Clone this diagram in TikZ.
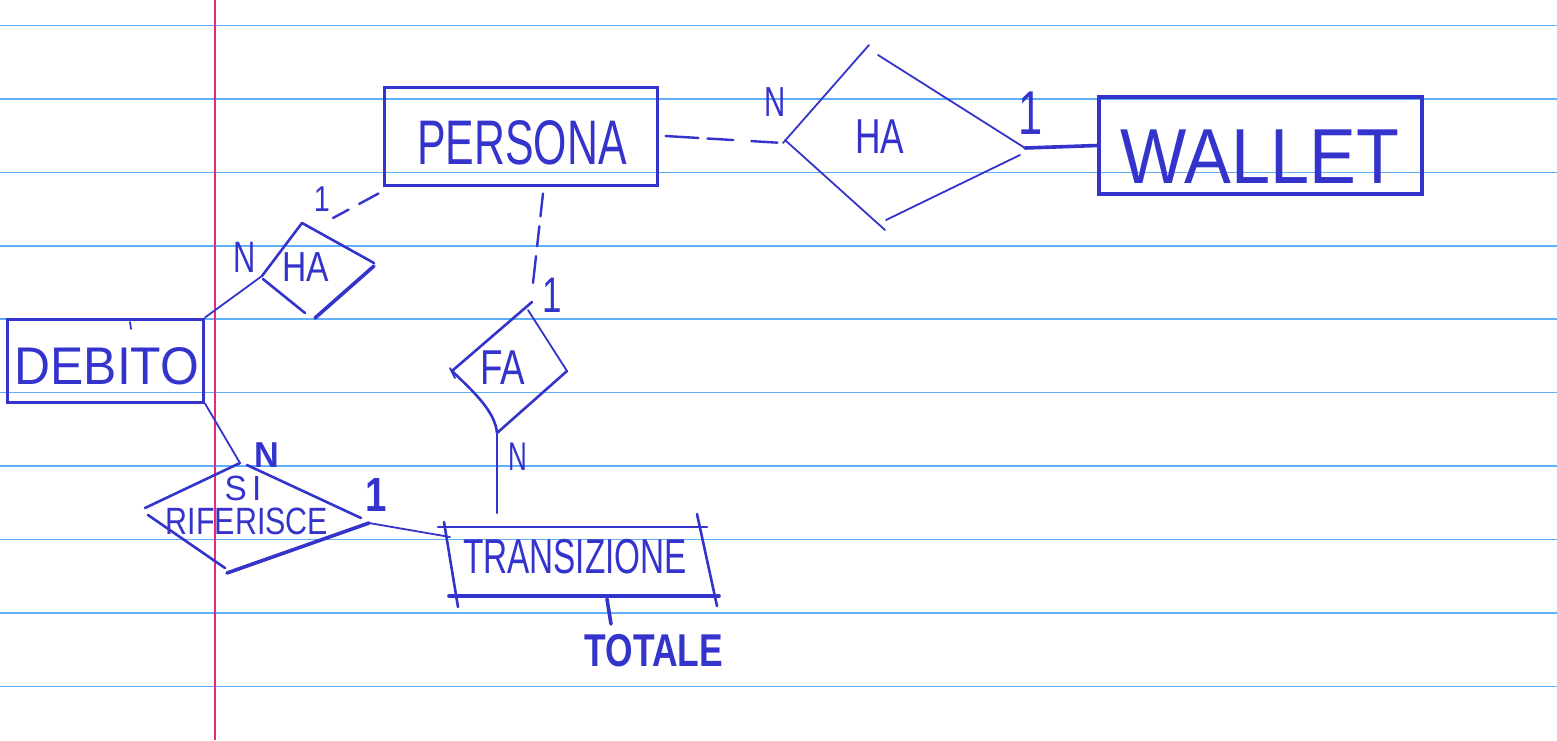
\documentclass[tikz,border=0pt]{standalone}
\usepackage{fontspec}
\setmainfont{Liberation Sans}
\usepackage{graphicx}
\definecolor{ink}{RGB}{52,52,204}
\definecolor{ruling}{RGB}{95,175,250}
\definecolor{marginred}{RGB}{232,40,120}
\newcommand{\handtext}[3]{\scalebox{#2}[1]{\fontsize{#1}{#1}\selectfont #3}}
\begin{document}
\begin{tikzpicture}[x=1pt,y=-1pt,
  txt/.style={inner sep=0pt, text=ink},
  ent/.style={draw=ink, line width=3pt, inner sep=0pt},
  thin/.style={draw=ink, line width=1.8pt, line cap=round},
  med/.style={draw=ink, line width=2.6pt, line cap=round},
  thick/.style={draw=ink, line width=3.6pt, line cap=round},
  dashlink/.style={draw=ink, line width=2.4pt, line cap=round, dash pattern=on 22pt off 11pt}]
\useasboundingbox (0,0) rectangle (1557,740);
\fill[white] (0,0) rectangle (1557,740);
% ruled paper
\foreach \yy in {25.5,99,172.5,246,319,392.5,466,539.5,613,686.5}
  \draw[ruling, line width=1.5pt] (0,\yy) -- (1557,\yy);
\draw[marginred, line width=1.5pt] (215,0) -- (215,740);

% ---------- entities ----------
\node[ent, minimum width=273pt, minimum height=98pt] (persona) at (520.5,136) {};
\node[txt] (personaT) at (522,143) {\handtext{63}{0.68}{PERSONA}};

\node[ent, line width=3.6pt, minimum width=323pt, minimum height=97pt] (wallet) at (1260.5,145.5) {};
\node[txt] (walletT) at (1260,157) {\handtext{78}{0.9}{WALLET}};

\node[ent, minimum width=196pt, minimum height=83pt] (debito) at (105.5,360.5) {};
\node[txt] (debitoT) at (107,366) {\handtext{53}{0.94}{DEBITO}};
\draw[thin] (130,322) -- (131,329);

% TRANSIZIONE (sketchy box with overshooting sides)
\node[txt] (transizione) at (575,557) {\handtext{49}{0.68}{TRANSIZIONE}};
\draw[med] (438,527) -- (707,527);
\draw[thick] (449,596) -- (719,596);
\draw[med] (444,522) -- (458,607);
\draw[med] (697,514) -- (717,606);
\coordinate (trN) at (497,513);
\coordinate (trW) at (450,537);
\coordinate (trS) at (607,599);

% attribute
\node[txt] (totale) at (654,651) {\handtext{46}{0.77}{\bfseries TOTALE}};
\draw[thick] (trS) -- (611,624);

% ---------- relationship HA (persona - wallet) ----------
\coordinate (haAT) at (869,45);
\coordinate (haAW) at (783,143);
\coordinate (haAE) at (1025,148);
\coordinate (haAB) at (885,230);
\draw[thin] (haAT) -- (haAW);
\draw[thin] (878,55) -- (haAE);
\draw[thin] (785,140) -- (haAB);
\draw[thin] (886,220) -- (1020,155);
\node[txt] (haA) at (880,137) {\handtext{49}{0.72}{HA}};

% ---------- relationship HA (persona - debito) ----------
\coordinate (haBT) at (302,223);
\coordinate (haBW) at (262,276);
\coordinate (haBE) at (374,263);
\coordinate (haBn) at (333,218);
\draw[med] (haBT) -- (haBW);
\draw[med] (haBT) -- (haBE);
\draw[med] (263,279) -- (305,313);
\draw[thick] (374,266) -- (315,318);
\node[txt] (haB) at (306,267) {\handtext{42}{0.8}{HA}};

% ---------- relationship FA ----------
\coordinate (faT) at (532,302);
\coordinate (faW) at (452,371);
\coordinate (faE) at (567,371);
\coordinate (faB) at (497,433);
\coordinate (faN) at (533,283);
\draw[med] (faT) -- (faW);
\draw[thin] (528,310) -- (faE);
\draw[med] (faE) -- (faB);
\draw[med] (faW) .. controls (476,394) and (495,412) .. (faB);
\draw[thin] (450,368) -- (455,378);
\node[txt] (fa) at (503,368) {\handtext{49}{0.75}{FA}};

% ---------- relationship SI RIFERISCE ----------
\coordinate (rfT) at (240,463);
\coordinate (rfW) at (145,508);
\coordinate (rfE) at (369,523);
\coordinate (rfB) at (227,573);
\draw[med] (rfT) -- (rfW);
\draw[med] (247,465) -- (361,518);
\draw[thick] (rfE) -- (rfB);
\draw[med] (148,515) -- (225,568);
\node[txt] (rfS) at (243,488) {\handtext{35}{0.95}{S\,I}};
\node[txt] (rf) at (247,521) {\handtext{38}{0.8}{RIFERISCE}};

% ---------- connectors ----------
\draw[dashlink, dash pattern=on 33pt off 9pt on 26pt off 18pt on 26pt off 20pt] ([xshift=7pt]persona.east) -- (haAW);
\draw[thick] (haAE) -- (wallet.west);
\draw[dashlink, dash pattern=on 22pt off 12pt] ([xshift=-4pt,yshift=-7pt]persona.south west) -- (haBn);
\draw[thin] (haBW) -- (debito.north east);
\draw[thin] (debito.south east) -- (rfT);
\draw[thin] (rfE) -- (trW);
\draw[dashlink, dash pattern=on 23pt off 10pt on 20pt off 10pt on 40pt off 10pt] ([xshift=22.5pt,yshift=-7pt]persona.south) -- (faN);
\draw[med] (faB) -- (trN);

% ---------- cardinalities ----------
\node[txt] (cN1) at (775,102) {\handtext{42}{0.7}{N}};
\node[txt] (c11) at (1031,113) {\handtext{62}{0.7}{1}};
\node[txt] (cN2) at (245,257) {\handtext{44}{0.7}{N}};
\node[txt] (c12) at (322,199) {\handtext{36}{0.8}{1}};
\node[txt] (cN3) at (267,455) {\handtext{36}{0.95}{\bfseries N}};
\node[txt] (c13) at (376,495) {\handtext{48}{0.8}{\bfseries 1}};
\node[txt] (cN4) at (518,457) {\handtext{40}{0.65}{N}};
\node[txt] (c14) at (552,295) {\handtext{50}{0.7}{1}};
\end{tikzpicture}
\end{document}
